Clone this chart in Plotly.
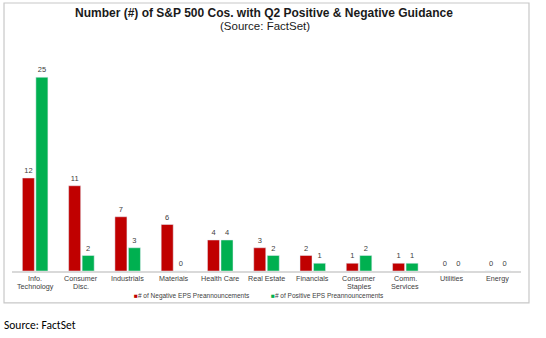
import plotly.graph_objects as go

# Sector categories; "|" marks where a label wraps onto a second line
sectors = [
    "Info.|Technology", "Consumer|Disc.", "Industrials", "Materials",
    "Health Care", "Real Estate", "Financials", "Consumer|Staples",
    "Comm.|Services", "Utilities", "Energy",
]
negative = [12, 11, 7, 6, 4, 3, 2, 1, 1, 0, 0]
positive = [25, 2, 3, 0, 4, 2, 1, 2, 1, 0, 0]

NEG_NAME = "# of Negative EPS Preannouncements"
POS_NAME = "# of Positive EPS Preannouncements"

RED = "#c00000"
GREEN = "#00b050"
LABEL = "#404040"
FONT = "Arial, Liberation Sans"

fig = go.Figure()
fig.add_trace(go.Bar(
    x=sectors, y=negative, name=NEG_NAME,
    marker_color=RED, text=negative, textposition="outside",
    textfont=dict(size=7.5, color=LABEL, family=FONT), cliponaxis=False,
))
fig.add_trace(go.Bar(
    x=sectors, y=positive, name=POS_NAME,
    marker_color=GREEN, text=positive, textposition="outside",
    textfont=dict(size=7.5, color=LABEL, family=FONT), cliponaxis=False,
))

annotations = []
# Category labels, one annotation per text line for tight line spacing
for cat in sectors:
    for i, line in enumerate(cat.split("|")):
        annotations.append(dict(
            text=line, x=cat, xref="x", y=0, yref="paper",
            yanchor="middle", xanchor="center", yshift=-7 - 8.5 * i,
            showarrow=False, font=dict(size=7.2, color=LABEL, family=FONT),
        ))

# Legend entries with small square swatches
for xpos, color, name in [(0.2358, RED, NEG_NAME), (0.505, GREEN, POS_NAME)]:
    annotations.append(dict(
        text=f"<span style='color:{color}'>■</span>{name}",
        xref="paper", yref="paper", x=xpos, y=-0.115,
        xanchor="left", yanchor="middle", showarrow=False,
        font=dict(size=6.5, color=LABEL, family=FONT),
    ))

annotations += [
    dict(text="<b>Number (#) of S&P 500 Cos. with Q2 Positive & Negative Guidance</b>",
         xref="paper", yref="paper", x=0.496, y=1.189, showarrow=False,
         xanchor="center", yanchor="middle",
         font=dict(size=12, color="#1a1a1a", family=FONT)),
    dict(text="(Source: FactSet)",
         xref="paper", yref="paper", x=0.498, y=1.129, showarrow=False,
         xanchor="center", yanchor="middle",
         font=dict(size=11.5, color="#1a1a1a", family=FONT)),
    dict(text="Source: FactSet",
         xref="paper", yref="paper", x=-0.0196, y=-0.249, showarrow=False,
         xanchor="left", yanchor="middle",
         font=dict(size=11.5, color="#000000", family="Carlito, Lato, Open Sans")),
]

fig.update_layout(
    width=546, height=338,
    margin=dict(l=12, r=25, t=54, b=67),
    paper_bgcolor="white", plot_bgcolor="white",
    barmode="group", bargap=0.416, bargroupgap=0.11,
    font=dict(family=FONT, size=7.5, color=LABEL),
    showlegend=False,
    xaxis=dict(
        showgrid=False, showline=True, linecolor="#d9d9d9", linewidth=1.5,
        ticks="", showticklabels=False,
    ),
    yaxis=dict(range=[0, 28], visible=False, showgrid=False, zeroline=False),
    shapes=[dict(
        type="rect", xref="paper", yref="paper",
        x0=-0.0157, x1=1.0157, y0=-0.147, y1=1.235,
        line=dict(color="#c8c8c8", width=1.2), fillcolor="rgba(0,0,0,0)",
    )],
    annotations=annotations,
)

fig.write_html("out.html")
